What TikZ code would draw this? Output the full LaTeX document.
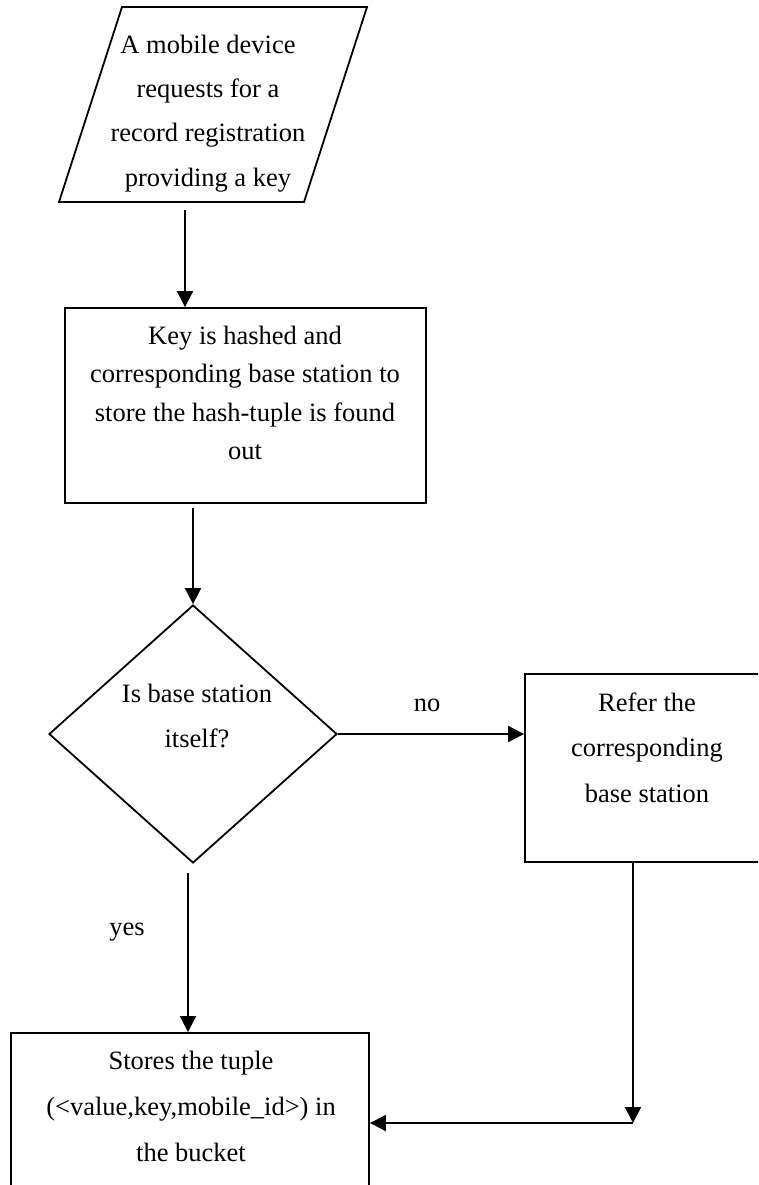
\documentclass[tikz,border=0pt]{standalone}
\usepackage{fontspec}
\setmainfont{Liberation Serif}
\usetikzlibrary{arrows.meta,shapes.geometric}
\newcommand\flowfont[1]{\fontsize{26.5}{#1}\selectfont}
\begin{document}
\begin{tikzpicture}[x=1pt,y=-1pt,
  box/.style={draw, line width=1.8pt, rectangle, inner sep=0pt},
  txt/.style={align=center, inner sep=0pt},
  arr/.style={line width=1.8pt, -{Triangle[length=16pt,width=16pt]}},
  lbl/.style={inner sep=0pt, font=\flowfont{30}}]
\clip (0,0) rectangle (758,1185);

% input: parallelogram
\draw[line width=1.8pt] (122,7) -- (367,7) -- (304,202) -- (59,202) -- cycle;
\node[txt, font=\flowfont{44.3}] (req) at (208,113.5)
  {A mobile device\\requests for a\\record registration\\providing a key};
\coordinate (req-out) at (185,210);

% hashing step
\node[box, minimum width=361pt, minimum height=195pt] (hash) at (245.5,405.5) {};
\node[txt, font=\flowfont{38.3}] (hash-t) at (245,393)
  {Key is hashed and\\corresponding base station to\\store the hash-tuple is found\\out};
\coordinate (hash-out) at (193,508);

% decision
\node[draw, line width=1.8pt, diamond, inner sep=0pt,
      minimum width=288pt, minimum height=258pt] (dec) at (193,734) {};
\node[txt, font=\flowfont{45}] (dec-t) at (197,715.5) {Is base station\\itself?};
\coordinate (dec-out) at (188,873);

% forwarding step
\node[box, minimum width=245pt, minimum height=188pt] (refer) at (647.5,768) {};
\node[txt, font=\flowfont{45.5}] (refer-t) at (647,747.5)
  {Refer the\\corresponding\\base station};

% storing step
\node[box, minimum width=358pt, minimum height=190pt] (store) at (190,1128) {};
\node[txt, font=\flowfont{46}] (store-t) at (191,1106)
  {Stores the tuple\\(<value,key,mobile\_id>) in\\the bucket};

\coordinate (join) at (633,1123);

% connectors
\draw[arr] (req-out) -- (hash.north -| req-out);
\draw[arr] (hash-out) -- (dec.north);
\draw[arr] (dec.east) -- (dec.east -| refer.west);
\draw[arr] (dec-out) -- (store.north -| dec-out);
\draw[arr] (refer.south -| join) -- (join);
\draw[arr] (join) -- (store.east |- join);

% branch labels
\node[lbl] (no) at (427,705) {no};
\node[lbl] (yes) at (127,932) {yes};
\end{tikzpicture}
\end{document}
